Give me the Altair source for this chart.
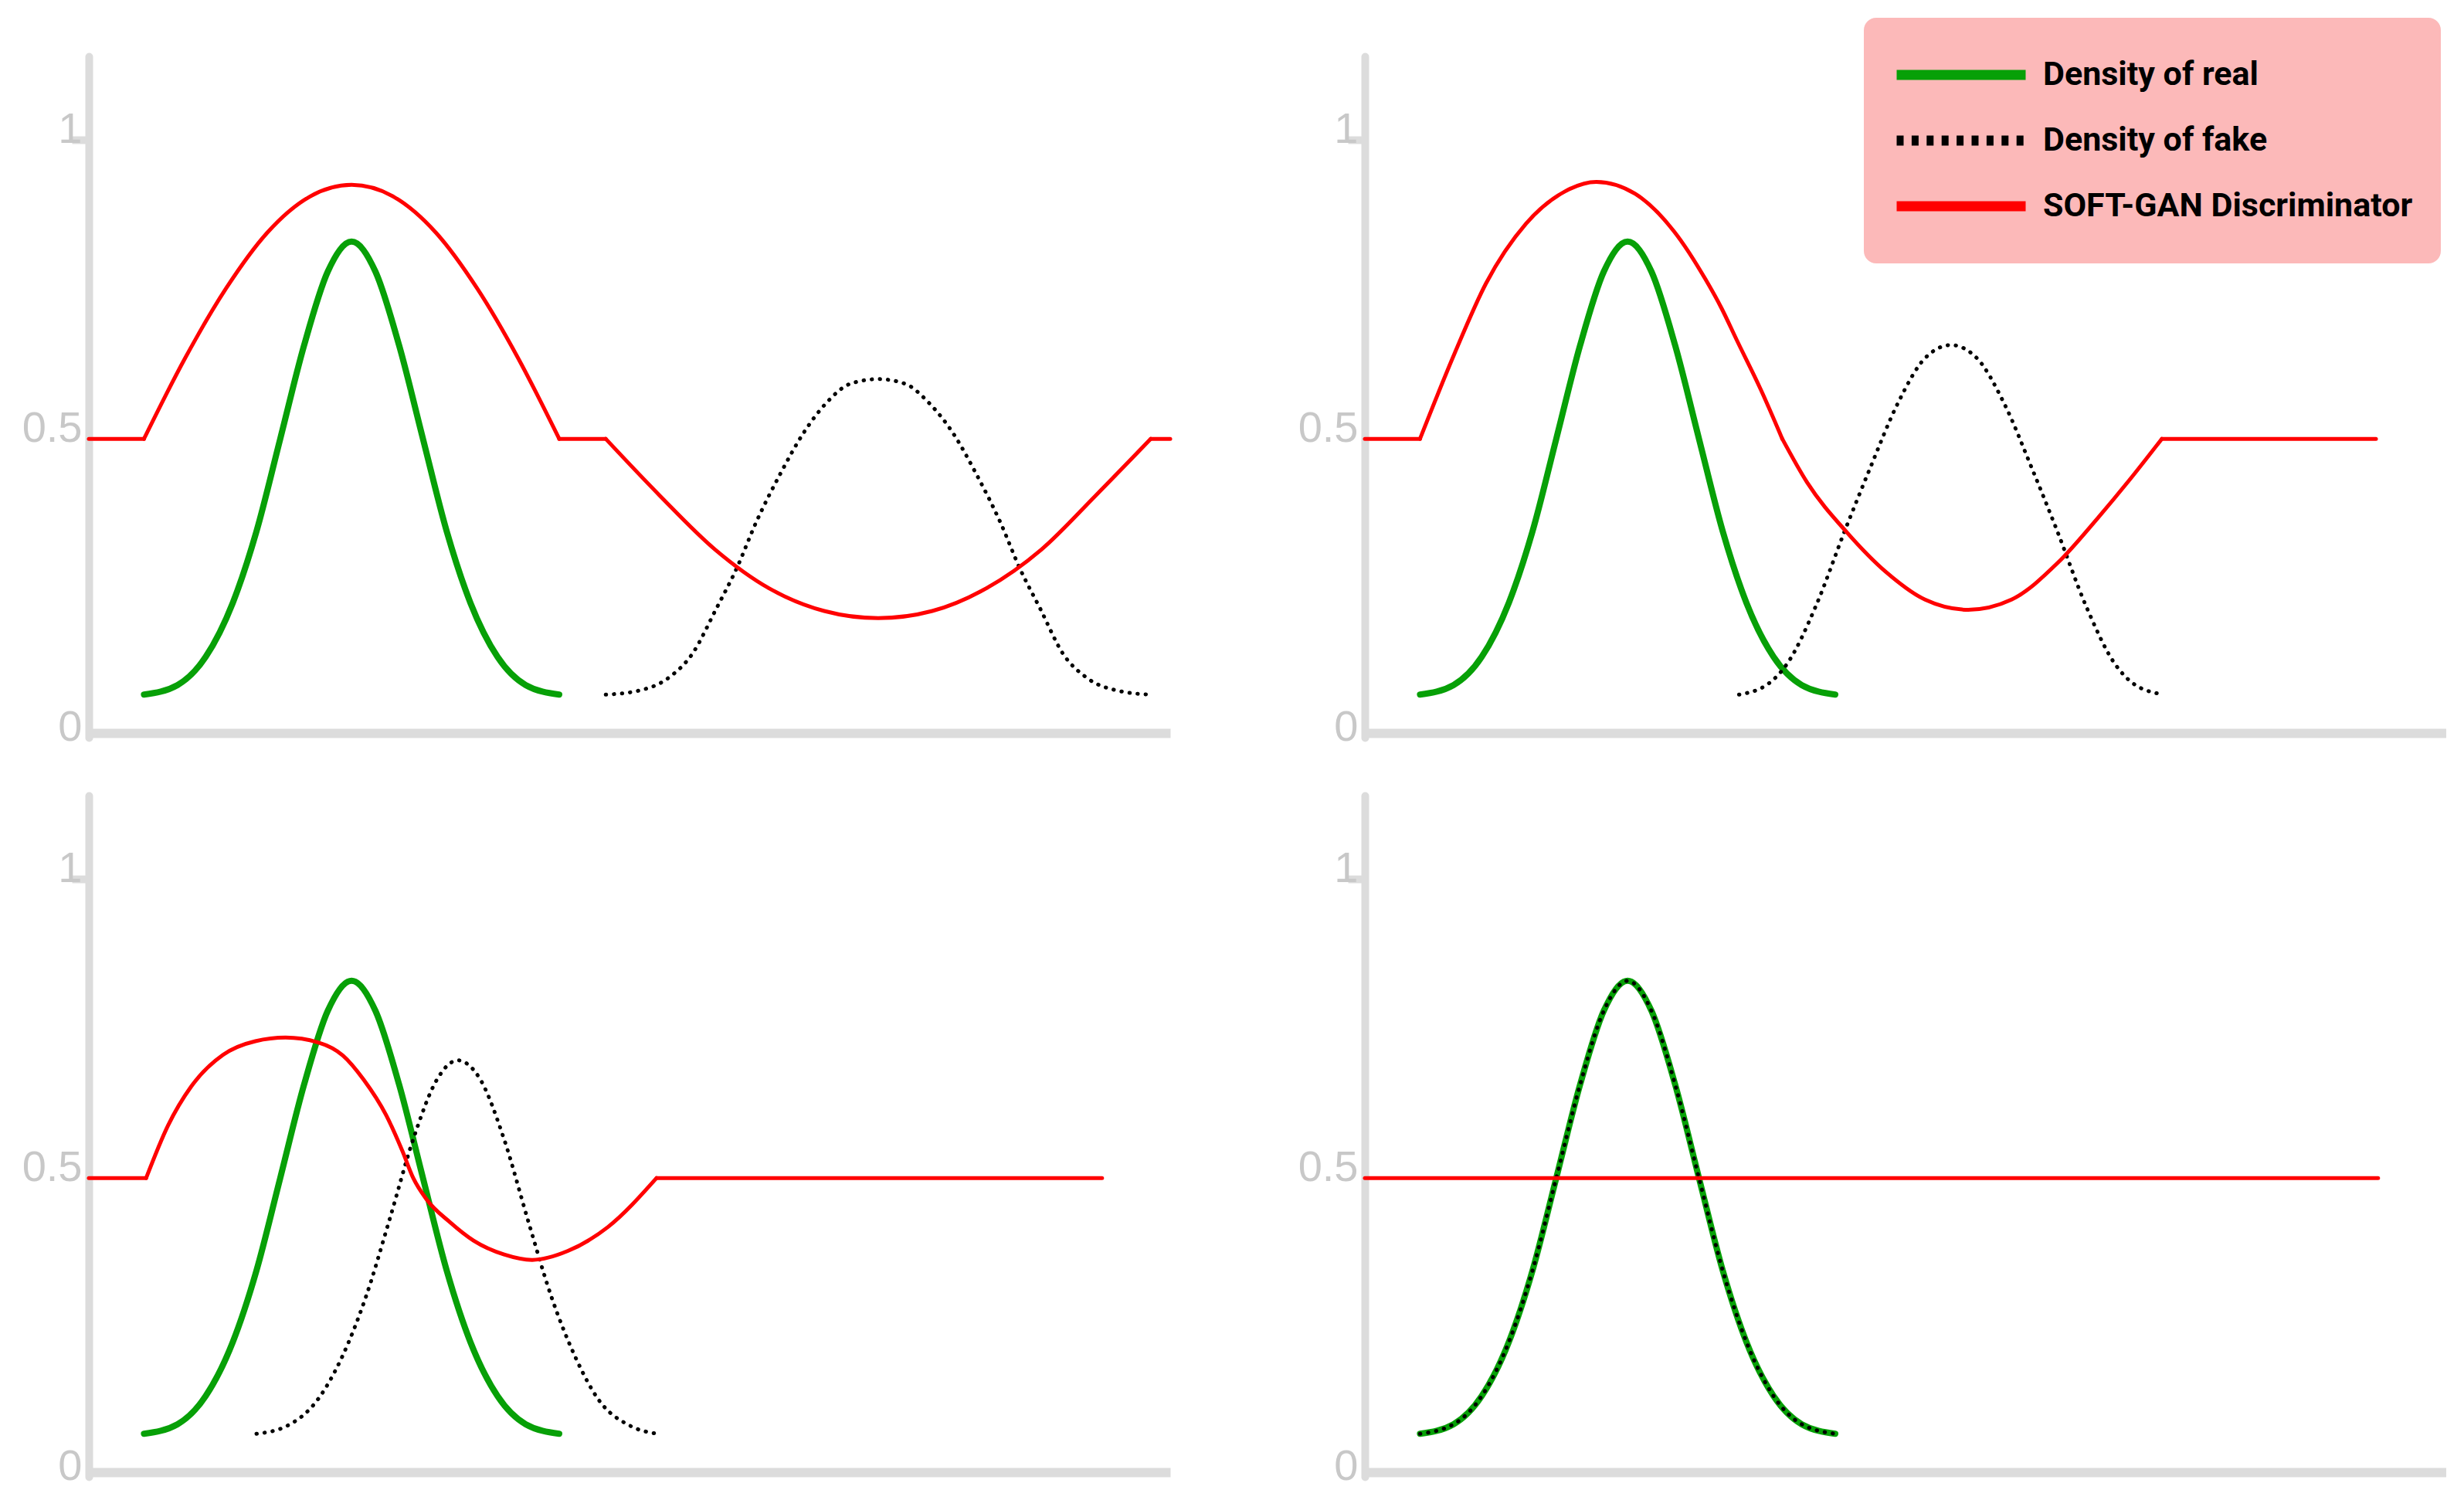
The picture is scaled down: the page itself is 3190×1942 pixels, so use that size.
import altair as alt
import pandas as pd

SERIES = ["Density of real", "Density of fake", "SOFT-GAN Discriminator"]
LINE_COLORS = ["#07a007", "#000000", "#ff0000"]
LEGEND_DASHES = [[1, 0], [9, 10.4], [1, 0]]

# x: position along each panel's horizontal axis (0-100, no labels); y: density / D(x)
# Real data density (identical in all four panels)
real_x = [5.1, 8.2, 10.8, 13.3, 15.5, 17.7, 19.9, 22.1, 24.3, 26.5, 28.7, 30.9, 33.1, 35.3, 37.8, 40.4, 43.5]
real_y = [0.072, 0.088, 0.135, 0.225, 0.345, 0.5, 0.656, 0.78, 0.83, 0.78, 0.656, 0.5, 0.345, 0.225, 0.135, 0.088, 0.072]

# Panel 1 (top left)
fake1_x = [47.8, 50.7, 53.6, 55.8, 58.0, 59.9, 61.7, 63.9, 66.1, 68.2, 70.4, 73.0, 75.5, 77.7, 79.9, 82.1, 84.3, 86.1, 88.0, 90.1, 92.3, 95.3, 98.2]
fake1_y = [0.072, 0.078, 0.1, 0.14, 0.215, 0.283, 0.36, 0.44, 0.51, 0.56, 0.592, 0.6, 0.592, 0.56, 0.51, 0.44, 0.36, 0.283, 0.215, 0.14, 0.1, 0.078, 0.072]
disc1_x = [0, 5.1,
           5.1, 8.9, 12.7, 16.5, 20.4, 24.3, 28.2, 32.1, 35.9, 39.7, 43.5,
           43.5, 47.8,
           47.8, 52.8, 57.9, 62.9, 68.0, 73.0, 78.0, 83.0, 88.1, 93.1, 98.2,
           98.2, 100]
disc1_y = [0.5, 0.5,
           0.5, 0.635, 0.752, 0.845, 0.905, 0.925, 0.905, 0.845, 0.752, 0.635, 0.5,
           0.5, 0.5,
           0.5, 0.405, 0.315, 0.25, 0.212, 0.2, 0.212, 0.25, 0.315, 0.405, 0.5,
           0.5, 0.5]
disc1_seg = [0] * 2 + [1] * 11 + [2] * 2 + [3] * 11 + [4] * 2

# Panel 2 (top right)
fake2_x = [34.6, 37.3, 39.1, 41.7, 44.4, 46.7, 49.3, 51.8, 54.2, 56.6, 59.1, 61.7, 64.0, 66.7, 69.3, 71.1, 73.9]
fake2_y = [0.072, 0.09, 0.125, 0.22, 0.347, 0.45, 0.56, 0.635, 0.657, 0.635, 0.56, 0.45, 0.347, 0.22, 0.125, 0.09, 0.072]
disc2_x = [0, 5.1,
           5.1, 8.3, 11.2, 14.9, 18.5, 21.4, 25.0, 28.6, 31.5, 33.0, 34.4, 36.6, 38.6,
           38.6, 40.9, 44.6, 48.2, 51.8, 55.8, 59.8, 64.1, 67.8, 70.7, 73.7,
           73.7, 93.5]
disc2_y = [0.5, 0.5,
           0.5, 0.643, 0.76, 0.86, 0.914, 0.93, 0.91, 0.847, 0.767, 0.718, 0.665, 0.583, 0.5,
           0.5, 0.427, 0.343, 0.277, 0.231, 0.214, 0.231, 0.293, 0.368, 0.431, 0.5,
           0.5, 0.5]
disc2_seg = [0] * 2 + [1] * 13 + [2] * 11 + [3] * 2

# Panel 3 (bottom left)
fake3_x = [15.5, 18.3, 21.2, 23.4, 25.6, 27.8, 30.0, 32.2, 34.1, 36.2, 38.4, 40.6, 42.8, 45.0, 47.1, 50.1, 52.6]
fake3_y = [0.072, 0.085, 0.13, 0.2, 0.3, 0.43, 0.565, 0.665, 0.697, 0.665, 0.565, 0.43, 0.3, 0.2, 0.13, 0.085, 0.072]
disc3_x = [0, 5.3,
           5.3, 7.3, 9.5, 12.4, 15.4, 18.2, 21.2, 23.5, 25.4, 27.5, 29.0, 30.0, 31.2, 33.4, 35.6, 38.4, 41.0, 44.3, 48.0, 52.5,
           52.5, 93.7]
disc3_y = [0.5, 0.5,
           0.5, 0.587, 0.654, 0.706, 0.729, 0.735, 0.727, 0.705, 0.665, 0.605, 0.545, 0.5, 0.465, 0.426, 0.395, 0.372, 0.363, 0.378, 0.418, 0.5,
           0.5, 0.5]
disc3_seg = [0] * 2 + [1] * 20 + [2] * 2

# Panel 4 (bottom right): fake density coincides with the real one
fake4_x = real_x
fake4_y = real_y
disc4_x = [0, 93.7]
disc4_y = [0.5, 0.5]
disc4_seg = [0, 0]


def frame(xs, ys, name, segs=None):
    return pd.DataFrame({
        "x": xs,
        "y": ys,
        "series": name,
        "seg": segs if segs is not None else [0] * len(xs),
    })


legend = alt.Legend(
    title=None,
    orient="none",
    legendX=2298,
    legendY=-50,
    fillColor="#fcb9b9",
    cornerRadius=16,
    padding=36,
    symbolType="stroke",
    symbolSize=27889,
    symbolStrokeWidth=13,
    symbolOpacity=1,
    labelFont="Roboto, Liberation Sans, sans-serif",
    labelFontSize=43,
    labelFontWeight="bold",
    labelColor="#000000",
    labelLimit=0,
    labelOffset=16,
    clipHeight=76,
    rowPadding=9,
)

color = alt.Color(
    "series:N",
    scale=alt.Scale(domain=SERIES, range=LINE_COLORS),
    legend=legend,
)
dash = alt.StrokeDash(
    "series:N",
    scale=alt.Scale(domain=SERIES, range=LEGEND_DASHES),
    legend=legend,
)

x_enc = alt.X(
    "x:Q",
    scale=alt.Scale(domain=[0, 100], nice=False, zero=False),
    axis=alt.Axis(
        title=None, labels=False, ticks=False, grid=False,
        domainColor="#dcdcdc", domainWidth=12, offset=-6,
    ),
)
y_enc = alt.Y(
    "y:Q",
    scale=alt.Scale(domain=[0, 1.14], nice=False),
    axis=alt.Axis(
        title=None,
        values=[0, 0.5, 1],
        format="~g",
        grid=False,
        domainColor="#dcdcdc",
        domainWidth=10,
        domainCap="round",
        tickColor="#dcdcdc",
        tickWidth=10,
        tickSize=22,
        tickOpacity={"condition": {"test": "datum.value === 1", "value": 1}, "value": 0},
        labelPadding=-13,
        labelFont="Liberation Sans, Arial, sans-serif",
        labelFontSize=56,
        labelColor="#c8c8c8",
        labelAlign="right",
        labelBaseline="alphabetic",
        labelOffset=3,
        labelOverlap=False,
        labelFlush=False,
    ),
)


def panel(fake_x, fake_y, disc_x, disc_y, disc_seg, with_legend=False):
    real = alt.Chart(frame(real_x, real_y, SERIES[0])).mark_line(
        interpolate="monotone", strokeWidth=8, strokeCap="round"
    ).encode(x=x_enc, y=y_enc, color=color, detail="seg:N")
    fake = alt.Chart(frame(fake_x, fake_y, SERIES[1])).mark_line(
        interpolate="monotone", strokeWidth=5, strokeDash=[0.5, 10], strokeCap="round"
    ).encode(x=x_enc, y=y_enc, color=color, detail="seg:N")
    disc = alt.Chart(frame(disc_x, disc_y, SERIES[2], disc_seg)).mark_line(
        interpolate="monotone", strokeWidth=5, strokeCap="round"
    ).encode(x=x_enc, y=y_enc, color=color, detail="seg:N")
    layers = [real, fake, disc]
    if with_legend:
        # legend-only layer: supplies the per-series dash pattern to the legend, draws nothing
        key = alt.Chart(pd.DataFrame({"series": SERIES, "x": [0, 0, 0], "y": [0, 0, 0]})).mark_line(
            strokeWidth=13
        ).encode(x=x_enc, y=y_enc, color=color, strokeDash=dash).transform_filter("false")
        layers.append(key)
    return alt.layer(*layers).properties(width=1400, height=882)


p1 = panel(fake1_x, fake1_y, disc1_x, disc1_y, disc1_seg)
p2 = panel(fake2_x, fake2_y, disc2_x, disc2_y, disc2_seg, with_legend=True)
p3 = panel(fake3_x, fake3_y, disc3_x, disc3_y, disc3_seg)
p4 = panel(fake4_x, fake4_y, disc4_x, disc4_y, disc4_seg)

chart = alt.concat(
    p1, p2, p3, p4,
    columns=2,
    spacing={"row": 75, "column": 252},
    bounds="flush",
    padding={"left": 20, "top": 15, "right": 0, "bottom": 10},
).configure_view(strokeWidth=0)

chart.save("out.html", embed_options={"renderer": "svg", "actions": False})
